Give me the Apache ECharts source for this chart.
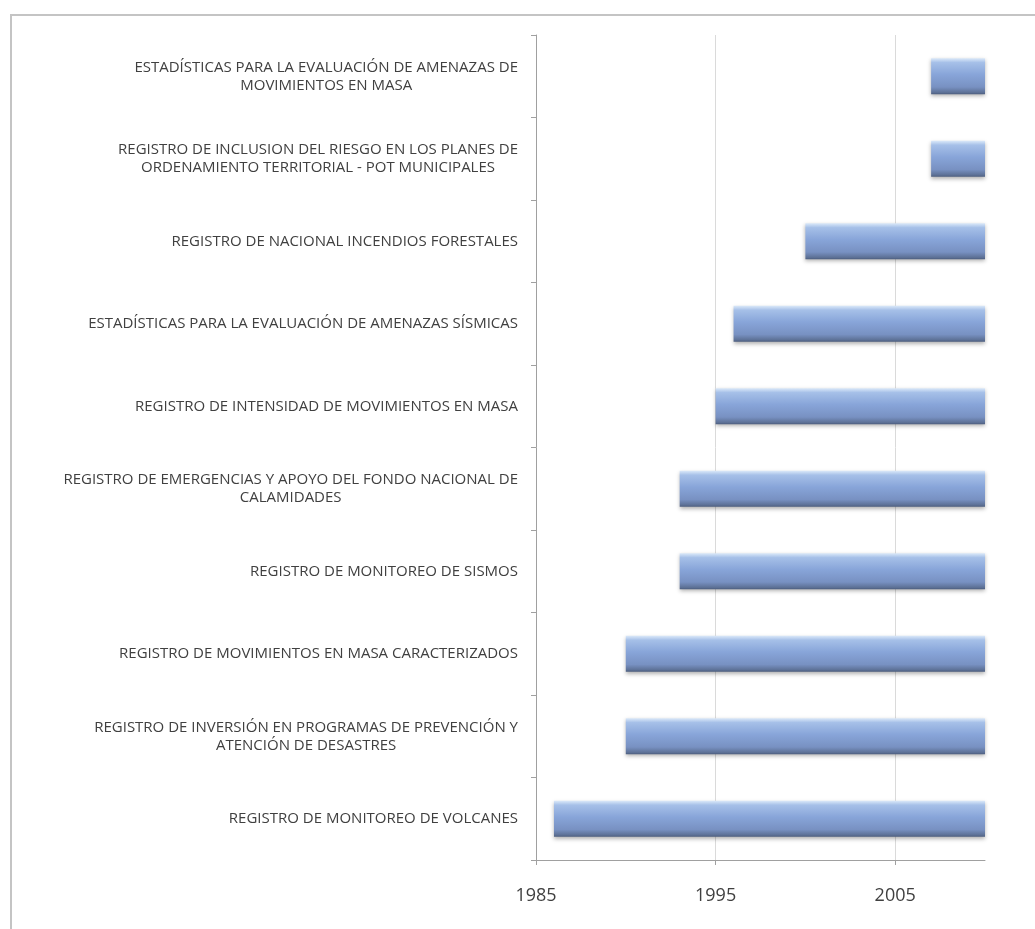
<!DOCTYPE html>
<html>
<head>
<meta charset="utf-8">
<script src="https://cdn.jsdelivr.net/npm/echarts@6/dist/echarts.min.js"></script>
<style>
  html, body { margin: 0; padding: 0; background: #ffffff; }
  #chart { width: 1035px; height: 929px; }
</style>
</head>
<body>
<div id="chart"></div>
<script>
// Registros de información sobre riesgo: año de inicio de cada registro
const categories = [
  'ESTADÍSTICAS PARA LA EVALUACIÓN DE AMENAZAS DE\nMOVIMIENTOS EN MASA',
  'REGISTRO DE INCLUSION DEL RIESGO EN LOS PLANES DE\nORDENAMIENTO TERRITORIAL - POT MUNICIPALES',
  'REGISTRO DE NACIONAL INCENDIOS FORESTALES',
  'ESTADÍSTICAS PARA LA EVALUACIÓN DE AMENAZAS SÍSMICAS',
  'REGISTRO DE INTENSIDAD DE MOVIMIENTOS EN MASA',
  'REGISTRO DE EMERGENCIAS Y APOYO DEL FONDO NACIONAL DE\nCALAMIDADES',
  'REGISTRO DE MONITOREO DE SISMOS',
  'REGISTRO DE MOVIMIENTOS EN MASA CARACTERIZADOS',
  'REGISTRO DE INVERSIÓN EN PROGRAMAS DE PREVENCIÓN Y\nATENCIÓN DE DESASTRES',
  'REGISTRO DE MONITOREO DE VOLCANES'
];
const startYears = [2007, 2007, 2000, 1996, 1995, 1993, 1993, 1990, 1990, 1986];
const endYears   = [2010, 2010, 2010, 2010, 2010, 2010, 2010, 2010, 2010, 2010];
const yearTicks  = [1985, 1995, 2005];

const durations = startYears.map((s, i) => endYears[i] - s);

const chart = echarts.init(document.getElementById('chart'));
const textColor = '#404040';
const font = '"Open Sans", sans-serif';

chart.setOption({
  animation: false,
  backgroundColor: '#ffffff',
  graphic: [{
    type: 'rect',
    shape: { x: 11, y: 15, width: 1200, height: 1200 },
    style: { fill: 'none', stroke: '#c4c4c4', lineWidth: 2 },
    silent: true,
    z: -1
  }],
  grid: { left: 536, right: 50, top: 35, bottom: 69 },
  xAxis: {
    type: 'value',
    min: 1985,
    max: 2010,
    interval: 10,
    axisLine: { show: true, lineStyle: { color: '#a0a0a0', width: 1 } },
    axisTick: { show: true, length: 5, customValues: yearTicks, lineStyle: { color: '#a0a0a0' } },
    axisLabel: {
      customValues: yearTicks,
      color: textColor,
      fontSize: 18,
      fontFamily: font,
      margin: 27,
      formatter: v => String(v)
    },
    splitLine: { show: true, lineStyle: { color: '#dadada', width: 1 } }
  },
  yAxis: {
    type: 'category',
    inverse: true,
    data: categories,
    axisLine: { show: true, lineStyle: { color: '#a0a0a0', width: 1 } },
    axisTick: { show: true, length: 5, lineStyle: { color: '#a0a0a0' } },
    axisLabel: {
      color: textColor,
      fontSize: 15,
      fontFamily: font,
      align: 'right',
      margin: 18,
      lineHeight: 18,
      // each line centred inside the right-aligned label block
      formatter: v => v.split('\n').map(l => '{c|' + l + '}').join('\n'),
      rich: {
        c: { align: 'center', fontSize: 15, fontFamily: font, color: textColor, lineHeight: 18 }
      }
    },
    splitLine: { show: false }
  },
  series: [
    {
      type: 'bar',
      stack: 'periodo',
      data: startYears,
      itemStyle: { color: 'transparent' },
      barWidth: 36,
      silent: true
    },
    {
      type: 'bar',
      stack: 'periodo',
      data: durations,
      barWidth: 36,
      itemStyle: {
        color: new echarts.graphic.LinearGradient(0, 0, 0, 1, [
          { offset: 0, color: '#dbe9f9' },
          { offset: 0.12, color: '#a6c0e8' },
          { offset: 0.45, color: '#88a5d9' },
          { offset: 0.8, color: '#7891c2' },
          { offset: 0.95, color: '#5d7196' },
          { offset: 1, color: '#4c5d7e' }
        ]),
        shadowColor: 'rgba(0,0,0,0.3)',
        shadowBlur: 4,
        shadowOffsetY: 2
      }
    }
  ]
});
</script>
</body>
</html>
